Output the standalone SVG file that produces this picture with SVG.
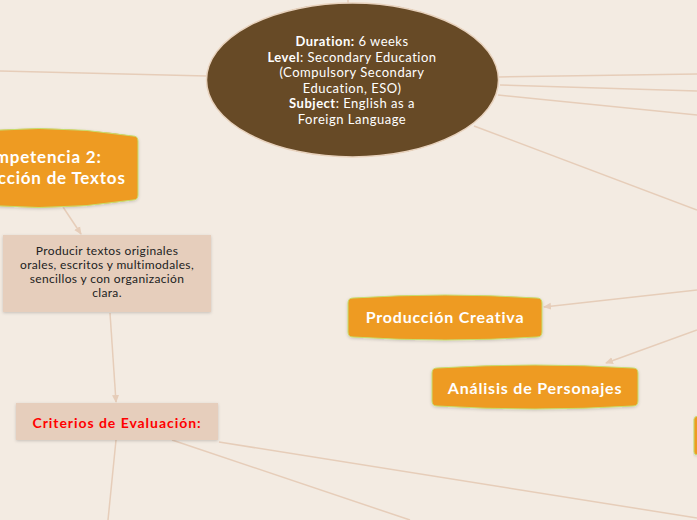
<svg xmlns="http://www.w3.org/2000/svg" width="697" height="520" viewBox="0 0 697 520">
  <defs>
    <style>
      .conn { stroke: #E6CDB9; stroke-width: 1.5; fill: none; }
      .orange { fill: #EE9B22; stroke: #C6DD6E; stroke-width: 1; filter: url(#sh); }
      .tan { fill: #E6CEBC; filter: url(#sh); }
      .t { font-family: Lato, "Noto Sans", sans-serif; text-anchor: middle; }
      .ow { fill: #FFFFFF; font-weight: bold; font-size: 16px; letter-spacing: 0.8px; }
      .el { fill: #FFFFFF; font-size: 13px; letter-spacing: 0.5px; }
      .dark { fill: #222222; font-size: 12px; letter-spacing: 0.35px; }
    </style>
    <filter id="sh" x="-10%" y="-20%" width="120%" height="150%">
      <feDropShadow dx="0" dy="1" stdDeviation="1.5" flood-color="#000" flood-opacity="0.18"/>
    </filter>
    <marker id="arr" markerWidth="8" markerHeight="8" refX="7" refY="4" orient="auto" markerUnits="userSpaceOnUse">
      <path d="M0,0.5 L8,4 L0,7.5 Z" fill="#E6CDB9"/>
    </marker>
  </defs>
  <rect width="697" height="520" fill="#F3EBE2"/>

  <g id="connectors">
    <line class="conn" x1="348" y1="0" x2="348" y2="4"/>
    <line class="conn" x1="0" y1="71" x2="207" y2="76"/>
    <line class="conn" x1="499" y1="77" x2="697" y2="74"/>
    <line class="conn" x1="500" y1="85" x2="697" y2="91"/>
    <line class="conn" x1="498" y1="95" x2="697" y2="115"/>
    <line class="conn" x1="474" y1="126" x2="697" y2="210"/>
    <line class="conn" x1="697" y1="290" x2="544" y2="307" marker-end="url(#arr)"/>
    <line class="conn" x1="697" y1="330" x2="606" y2="363" marker-end="url(#arr)"/>
    <line class="conn" x1="63" y1="207" x2="81" y2="234" marker-end="url(#arr)"/>
    <line class="conn" x1="110" y1="313" x2="116" y2="402" marker-end="url(#arr)"/>
    <line class="conn" x1="116" y1="440" x2="108" y2="520"/>
    <line class="conn" x1="172" y1="440" x2="410" y2="520"/>
    <line class="conn" x1="219" y1="442" x2="697" y2="518"/>
  </g>

  <g id="center">
    <ellipse cx="352.5" cy="80" rx="146" ry="77" fill="#674A26" stroke="#E8D2BD" stroke-width="1.5"/>
    <text class="t el" x="352" y="46"><tspan font-weight="bold">Duration:</tspan> 6 weeks</text>
    <text class="t el" x="352" y="62"><tspan font-weight="bold">Level</tspan>: Secondary Education</text>
    <text class="t el" x="352" y="77">(Compulsory Secondary</text>
    <text class="t el" x="352" y="93">Education, ESO)</text>
    <text class="t el" x="352" y="108"><tspan font-weight="bold">Subject</tspan>: English as a</text>
    <text class="t el" x="352" y="124">Foreign Language</text>
  </g>

  <g id="competencia2">
    <path class="orange" d="M-55,136 Q39,121 133,136 Q138,136 138,141 L138,195 Q138,200 133,200 Q39,215 -55,200 Z"/>
    <text class="t ow" x="37" y="163" style="font-size:17px">Competencia 2:</text>
    <text class="t ow" x="37" y="184" style="font-size:17px">Producción de Textos</text>
  </g>

  <g id="producir">
    <rect class="tan" x="3" y="235" width="208" height="77"/>
    <text class="t dark" x="107" y="255">Producir textos originales</text>
    <text class="t dark" x="107" y="269">orales, escritos y multimodales,</text>
    <text class="t dark" x="107" y="283">sencillos y con organización</text>
    <text class="t dark" x="107" y="297">clara.</text>
  </g>

  <g id="criterios">
    <rect class="tan" x="16" y="403" width="202" height="37"/>
    <text class="t" x="117" y="428" font-size="14" font-weight="bold" fill="#FF0000" letter-spacing="0.95">Criterios de Evaluación:</text>
  </g>

  <g id="produccion-creativa">
    <path class="orange" d="M353,298 Q445,292 537,298 Q542,298 542,303 L542,332 Q542,337 537,337 Q445,343 353,337 Q348,337 348,332 L348,303 Q348,298 353,298 Z"/>
    <text class="t ow" x="445" y="323">Producción Creativa</text>
  </g>

  <g id="analisis-personajes">
    <path class="orange" d="M437,368 Q535,362 633,368 Q638,368 638,373 L638,401 Q638,406 633,406 Q535,412 437,406 Q432,406 432,401 L432,373 Q432,368 437,368 Z"/>
    <text class="t ow" x="535" y="394">Análisis de Personajes</text>
  </g>

  <g id="right-node">
    <path class="orange" d="M698,416 Q695,416 694,419 L694,452 Q694,455 698,455 Z"/>
  </g>
</svg>
